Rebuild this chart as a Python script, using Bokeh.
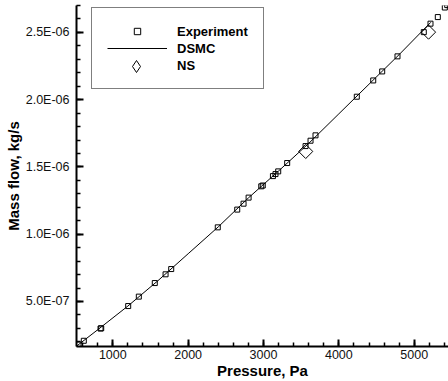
import numpy as np
from bokeh.plotting import figure
from bokeh.models import (Range1d, SingleIntervalTicker, CustomJSTickFormatter,
                          Legend, LegendItem)
from bokeh.embed import file_html
from bokeh.resources import INLINE

# Experiment data (pressure Pa, mass flow kg/s)
exp_p = [545, 615, 837, 846, 1204, 1345, 1557, 1700, 1775, 2393, 2651, 2735,
         2802, 2970, 2990, 3125, 3159, 3195, 3314, 3558, 3624, 3690, 4238,
         4456, 4575, 4778, 5127, 5216, 5313, 5406, 5438]
exp_m = [1.80e-7, 2.08e-7, 2.99e-7, 3.01e-7, 4.66e-7, 5.36e-7, 6.37e-7,
         7.02e-7, 7.41e-7, 1.051e-6, 1.183e-6, 1.227e-6, 1.272e-6, 1.356e-6,
         1.362e-6, 1.432e-6, 1.447e-6, 1.467e-6, 1.529e-6, 1.655e-6,
         1.695e-6, 1.735e-6, 2.022e-6, 2.143e-6, 2.210e-6, 2.322e-6,
         2.502e-6, 2.565e-6, 2.614e-6, 2.685e-6, 2.703e-6]

# DSMC curve
dsmc_p = [500, 800, 1200, 1600, 2000, 2400, 2800, 3200, 3600, 4000, 4400,
          4800, 5220]
dsmc_m = [1.60e-7, 2.90e-7, 4.66e-7, 6.55e-7, 8.55e-7, 1.055e-6, 1.27e-6,
          1.47e-6, 1.675e-6, 1.895e-6, 2.115e-6, 2.335e-6, 2.575e-6]

# NS results
ns_p = [3560, 5190]
ns_m = [1.615e-6, 2.502e-6]

x_label = "Pressure, Pa"
y_label = "Mass flow, kg/s"
series_names = ["Experiment", "DSMC", "NS"]

FONT = "Liberation Sans"

FRAME_W, FRAME_H = 372, 341

p = figure(frame_width=FRAME_W, frame_height=FRAME_H, output_backend="svg",
           toolbar_location=None,
           x_range=Range1d(518, 5455), y_range=Range1d(1.654e-7, 2.70e-6),
           min_border_left=76, min_border_right=0, min_border_top=5,
           min_border_bottom=34)
p.outline_line_color = None
p.xgrid.visible = False
p.ygrid.visible = False
p.background_fill_color = "white"
p.border_fill_color = "white"

r_dsmc = p.line(dsmc_p, dsmc_m, line_color="black", line_width=1)
r_exp = p.scatter(exp_p, exp_m, marker="square", size=5, fill_color=None,
                  line_color="black", line_width=1)
r_ns = p.scatter(ns_p, ns_m, marker="square", size=10, angle=0.785398,
                 fill_color=None, line_color="black", line_width=1)
# legend-only helpers (nothing drawn in the plot area)
r_blank = p.scatter(x=[], y=[], marker="square", size=1, fill_color=None,
                    line_color=None)
r_ns_key = p.scatter(x=np.array([np.nan]), y=np.array([np.nan]),
                     marker="diamond", size=1, fill_color=None,
                     line_color="black", line_width=1)

for ax in (p.xaxis[0], p.yaxis[0]):
    ax.axis_line_width = 2
    ax.axis_line_color = "black"
    ax.major_tick_in = 7
    ax.major_tick_out = 0
    ax.minor_tick_in = 4
    ax.minor_tick_out = 0
    ax.major_tick_line_width = 2
    ax.minor_tick_line_width = 1.5
    ax.major_tick_line_color = "black"
    ax.minor_tick_line_color = "black"
    ax.major_label_text_font = FONT
    ax.major_label_text_font_size = "12.5px"
    ax.major_label_text_color = "#111111"
    ax.axis_label_text_font = FONT
    ax.axis_label_text_font_size = "15px"
    ax.axis_label_text_font_style = "bold"
    ax.axis_label_text_color = "black"

p.xaxis[0].ticker = SingleIntervalTicker(interval=1000, num_minor_ticks=5)
p.yaxis[0].ticker = SingleIntervalTicker(interval=5e-7, num_minor_ticks=5)
p.xaxis[0].major_label_standoff = 3
p.yaxis[0].major_label_standoff = 7
p.xaxis[0].axis_label = x_label
p.xaxis[0].axis_label_standoff = 0
p.yaxis[0].axis_label = y_label
p.yaxis[0].axis_label_standoff = 1
p.yaxis[0].formatter = CustomJSTickFormatter(code="""
const s = tick.toExponential(1).toUpperCase();
const parts = s.split('E');
const e = parts[1];
const sign = e[0] === '-' ? '-' : '+';
let d = e.replace('-', '').replace('+', '');
if (d.length < 2) { d = '0' + d; }
return parts[0] + 'E' + sign + d;
""")

legend = Legend(items=[
    LegendItem(label=series_names[0], renderers=[r_exp]),
    LegendItem(label=series_names[1], renderers=[r_dsmc]),
    LegendItem(label=series_names[2], renderers=[r_blank]),
], location=(15, FRAME_H - 84))
legend.margin = 0
legend.padding = 15
legend.spacing = 1
legend.glyph_width = 60
legend.glyph_height = 16
legend.label_height = 16
legend.label_width = 70
legend.label_standoff = 10
legend.label_text_font = FONT
legend.label_text_font_size = "13px"
legend.label_text_font_style = "bold"
legend.label_text_color = "black"
legend.border_line_color = "black"
legend.border_line_width = 1
legend.background_fill_color = "white"
legend.background_fill_alpha = 1
p.add_layout(legend, "center")

# larger diamond key for the NS row
legend_ns = Legend(items=[LegendItem(label=" ", renderers=[r_ns_key])],
                   location=(30, FRAME_H - 76))
legend_ns.margin = 0
legend_ns.padding = 0
legend_ns.glyph_width = 60
legend_ns.glyph_height = 30
legend_ns.label_height = 30
legend_ns.label_standoff = 0
legend_ns.label_text_font_size = "1px"
legend_ns.border_line_color = None
legend_ns.background_fill_alpha = 0
p.add_layout(legend_ns, "center")

open("out.html", "w").write(file_html(p, INLINE))
